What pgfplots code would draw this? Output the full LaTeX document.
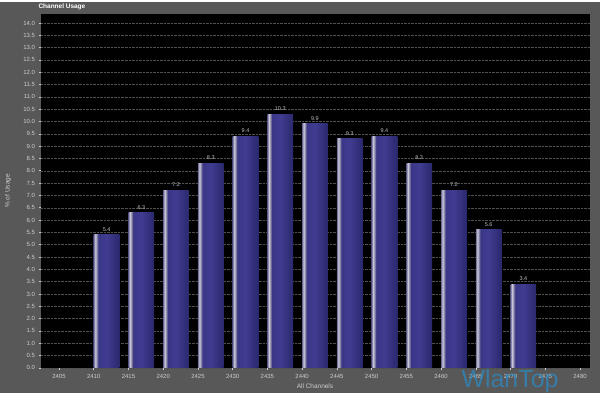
\documentclass[border=0pt]{standalone}
\usepackage{pgfplots}
\pgfplotsset{compat=1.18}
\usepackage{fontspec}
\setmainfont{Liberation Sans}
\definecolor{bggray}{RGB}{88,88,88}
\definecolor{lbl}{RGB}{205,205,205}
\definecolor{stripeL}{RGB}{110,108,150}
\definecolor{stripeW}{RGB}{205,203,220}
\definecolor{barA}{RGB}{58,54,135}
\definecolor{barB}{RGB}{64,60,145}
\definecolor{barC}{RGB}{42,40,108}
\definecolor{gridc}{RGB}{80,80,80}
\definecolor{wlan}{RGB}{40,140,200}
\pgfdeclarehorizontalshading{barshade}{100bp}{color(0bp)=(stripeL); color(25bp)=(stripeL); color(28bp)=(stripeW); color(32bp)=(stripeL); color(34bp)=(barA); color(50bp)=(barB); color(75bp)=(barC); color(100bp)=(barC)}
\begin{document}
\begin{tikzpicture}
\fill[bggray] (0,0) rectangle (600bp,391bp);
\begin{axis}[
  scale only axis,
  width=549bp, height=354bp,
  at={(41bp,25bp)}, anchor=south west,
  xmin=2402.41, xmax=2481.44,
  ymin=0, ymax=14.37,
  axis background/.style={fill=black},
  axis line style={draw=none},
  xtick={2405,2410,...,2480},
  ytick={0,0.5,...,14.0},
  xtick pos=bottom, ytick pos=left,
  tick align=outside,
  major tick length=2.5bp,
  every tick/.style={lbl, line width=0.6pt},
  ymajorgrids,
  grid style={gridc, densely dotted, line width=0.4pt},
  xticklabel style={font=\fontsize{6}{7}\selectfont, text=lbl},
  yticklabel style={font=\fontsize{6}{7}\selectfont, text=lbl},
  /pgf/number format/assume math mode=true,
  xticklabel={\pgfmathprintnumber[fixed,set thousands separator={}]{\tick}},
  yticklabel={\pgfmathprintnumber[fixed,fixed zerofill,precision=1]{\tick}},
  clip=false,
  mybar/.style={ybar, bar width=3.7, bar shift=1.85, draw=none, shading=barshade,
    nodes near coords,
    nodes near coords style={xshift=12.85bp, font=\fontsize{5.5}{6}\selectfont, text=lbl!85!gray, /pgf/number format/.cd, fixed, fixed zerofill, precision=1}},
]
\addplot[mybar] coordinates {(2410,5.4)};
\addplot[mybar] coordinates {(2415,6.3)};
\addplot[mybar] coordinates {(2420,7.2)};
\addplot[mybar] coordinates {(2425,8.3)};
\addplot[mybar] coordinates {(2430,9.4)};
\addplot[mybar] coordinates {(2435,10.3)};
\addplot[mybar] coordinates {(2440,9.9)};
\addplot[mybar] coordinates {(2445,9.3)};
\addplot[mybar] coordinates {(2450,9.4)};
\addplot[mybar] coordinates {(2455,8.3)};
\addplot[mybar] coordinates {(2460,7.2)};
\addplot[mybar] coordinates {(2465,5.6)};
\addplot[mybar] coordinates {(2470,3.4)};
\end{axis}
\node[anchor=west, text=white, font=\fontsize{6.5}{7}\selectfont\bfseries] at (35bp,386.5bp) {Channel Usage};
\node[rotate=90, text=lbl, font=\fontsize{6.5}{7}\selectfont] at (8bp,202bp) {\% of Usage};
\node[text=lbl, font=\fontsize{6.5}{7}\selectfont] at (315bp,7bp) {All Channels};
\node[text=wlan, opacity=0.7, font=\fontsize{25}{27}\selectfont] at (510bp,12bp) {WlanTop};
\end{tikzpicture}
\end{document}
